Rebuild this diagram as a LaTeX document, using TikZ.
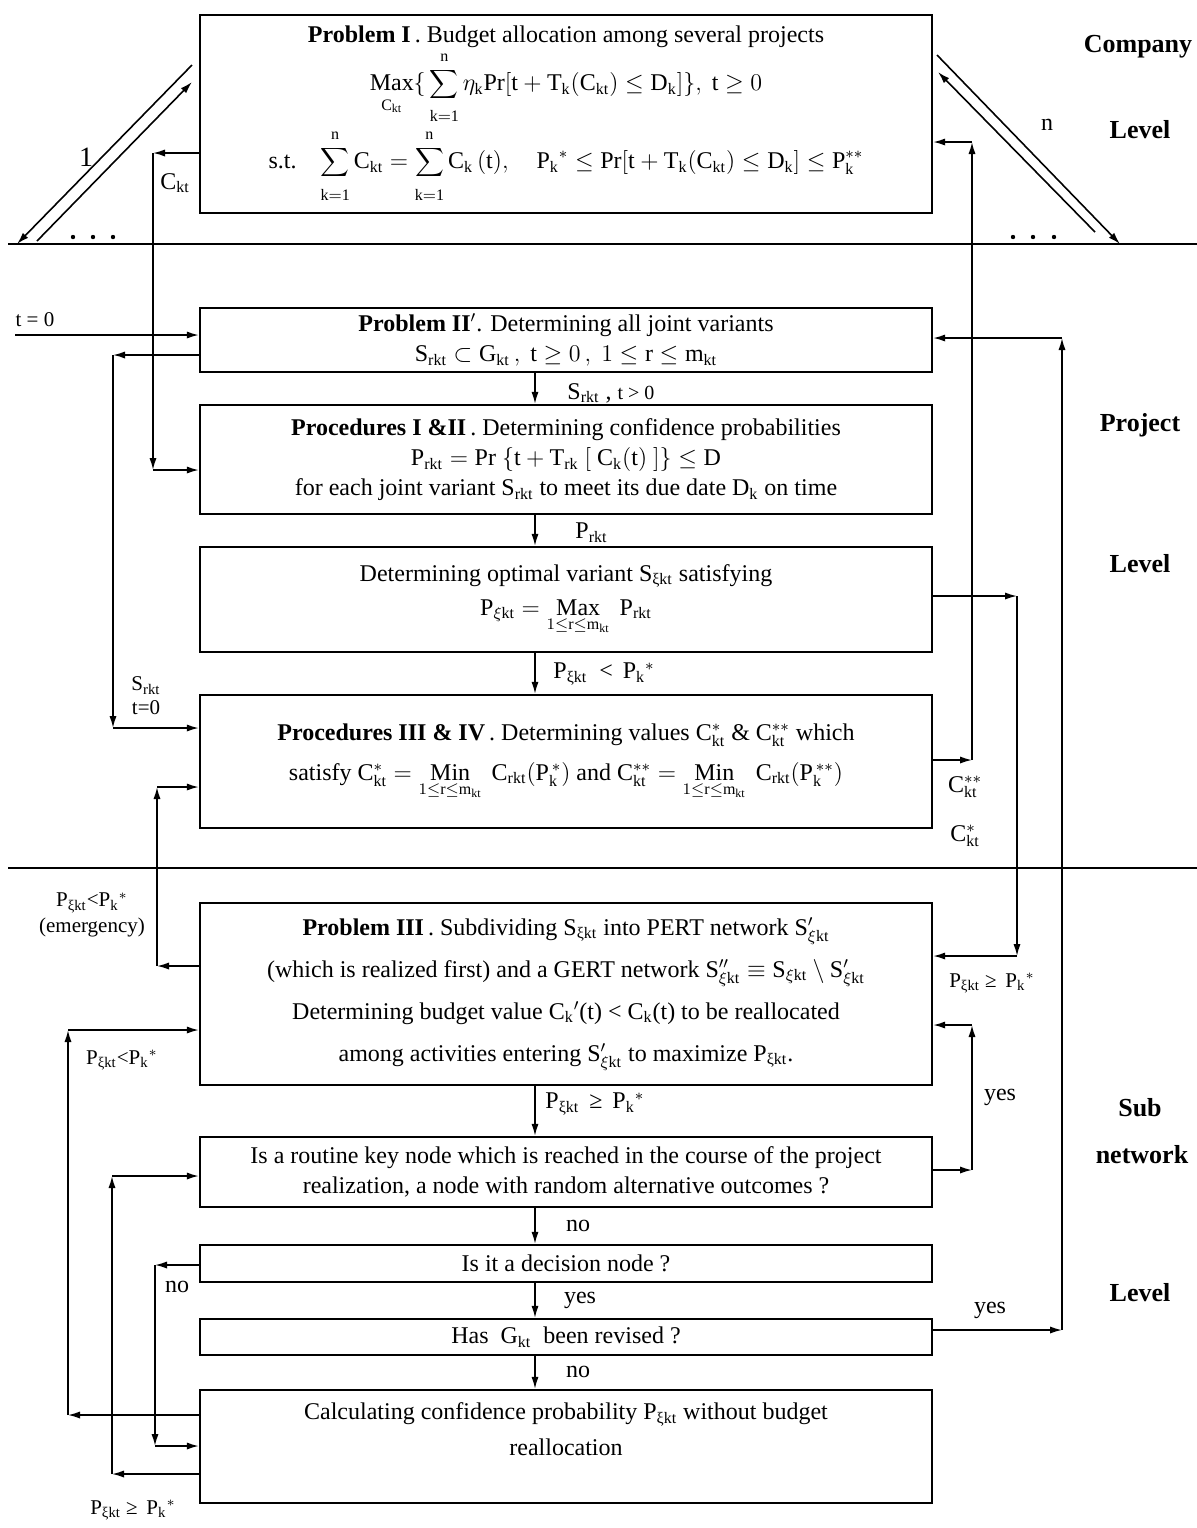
\documentclass[tikz,border=0pt]{standalone}
\usepackage{fontspec}
\setmainfont{Liberation Serif}
\usetikzlibrary{arrows.meta}
\newcommand\Ls[1]{\textsubscript{#1}}
\newcommand\upn{\mathrm{n}\rule[-2.5pt]{0pt}{0pt}}
\newcommand\lok{\rule{0pt}{9pt}\mathrm{k=1}}
\begin{document}
\begin{tikzpicture}[x=0.5pt,y=-0.5pt,
  box/.style={draw, line width=1.2pt, minimum width=366pt, inner sep=0pt, align=center, font=\fontsize{12}{14}\selectfont},
  conn/.style={line width=0.8pt},
  arr/.style={conn, -{Latex[length=6pt,width=3.6pt]}},
  lab/.style={font=\fontsize{12}{14}\selectfont, inner sep=1pt},
  slab/.style={font=\fontsize{10.5}{12}\selectfont, inner sep=1pt, align=center},
  side/.style={font=\fontsize{13}{15}\selectfont\bfseries},
  sep/.style={line width=0.7pt}]
\useasboundingbox (0,0) rectangle (1197,1528);

% separators
\coordinate (sepAl) at (8,244); \coordinate (sepAr) at (1197,244);
\coordinate (sepBl) at (8,868); \coordinate (sepBr) at (1197,868);
\draw[sep] (sepAl) -- (sepAr);
\draw[sep] (sepBl) -- (sepBr);
\foreach \x in {73,93,113,1013,1033,1054} \fill (\x,237) circle (2.2);

% boxes
\node[box, minimum height=99pt] (b1) at (566,114) {{\bfseries Problem I}\,. Budget allocation among several projects\\[1pt]
$\displaystyle\mathop{\mathrm{Max}}\limits_{\rule{0pt}{8pt}\mathrm{C_{kt}}}\{\,\sum\limits_{\lok}^{\upn}\eta_{\mathrm{k}}\mathrm{Pr[t+T_k(C_{kt})\le D_k]}\},\ \mathrm{t}\ge 0$\\[2pt]
s.t.\quad $\displaystyle\sum\limits_{\lok}^{\upn}\mathrm{C_{kt}} = \sum\limits_{\lok}^{\upn}\mathrm{C_k\,(t)},\quad \mathrm{P_k}^{*}\le\mathrm{Pr[t+T_k(C_{kt})\le D_k]}\le\mathrm{P_k^{**}}$};

\node[box, minimum height=32pt] (b2) at (566,340) {{\bfseries Problem II$'$}. Determining all joint variants\\[1pt]
$\mathrm{S_{rkt}}\subset\mathrm{G_{kt}}\,,\ \mathrm{t}\ge 0\,,\ 1\le \mathrm{r}\le\mathrm{m_{kt}}$};

\node[box, minimum height=54.5pt] (b3) at (566,459.5) {{\bfseries Procedures I \&II}\,. Determining confidence probabilities\\[1pt]
$\mathrm{P_{rkt}=Pr\ \{t+T_{rk}\ [\ C_k(t)\ ]\}\le D}$\\[1pt]
for each joint variant S\Ls{rkt} to meet its due date D\Ls{k} on time};

\node[box, minimum height=52.5pt] (b4) at (566,599.5) {Determining optimal variant S\Ls{ξkt} satisfying\\[3pt]
$\mathrm{P_{\xi kt}} = \mathop{\mathrm{Max}}\limits_{1\le \mathrm{r}\le \mathrm{m_{kt}}}\ \mathrm{P_{rkt}}$};

\node[box, minimum height=66.5pt] (b5) at (566,761.5) {{\bfseries Procedures III \& IV}\,. Determining values $\mathrm{C^{*}_{kt}}$ \& $\mathrm{C^{**}_{kt}}$ which\\[6pt]
satisfy $\mathrm{C^{*}_{kt}} = \mathop{\mathrm{Min}}\limits_{1\le\mathrm{r}\le\mathrm{m_{kt}}}\ \mathrm{C_{rkt}(P_k^{\,*})}$ and $\mathrm{C^{**}_{kt}} = \mathop{\mathrm{Min}}\limits_{1\le\mathrm{r}\le\mathrm{m_{kt}}}\ \mathrm{C_{rkt}(P_k^{\,**})}$};

\node[box, minimum height=91pt] (b6) at (566,994) {{\bfseries Problem III}\,. Subdividing S\Ls{ξkt} into PERT network $\mathrm{S'_{\xi kt}}$\\[7pt]
(which is realized first) and a GERT network $\mathrm{S''_{\xi kt}\equiv S_{\xi kt}\setminus S'_{\xi kt}}$\\[7pt]
Determining budget value C\Ls{k}$'$(t) < C\Ls{k}(t) to be reallocated\\[7pt]
among activities entering $\mathrm{S'_{\xi kt}}$ to maximize P\Ls{ξkt}.};

\node[box, minimum height=35pt] (b7) at (566,1172) {Is a routine key node which is reached in the course of the project\\[1pt]
realization, a node with random alternative outcomes ?};

\node[box, minimum height=18.5pt] (b8) at (566,1263.5) {Is it a decision node ?};

\node[box, minimum height=18pt] (b9) at (566,1337) {Has \ G\Ls{kt} \ been revised ?};

\node[box, minimum height=56.5pt] (b10) at (566,1446.5) {};
\node[lab, align=center] (b10t) at ([yshift=8.5pt]b10.center) {Calculating confidence probability P\Ls{ξkt} without budget\\[4pt] reallocation};

% side labels
\node[side] (lc1) at (1138,47) {Company};
\node[side] (lc2) at (1140,130) {Level};
\node[side] (lp1) at (1140,425) {Project};
\node[side] (lp2) at (1140,564) {Level};
\node[side] (ls1) at (1140,1108) {Sub};
\node[side] (ls2) at (1142,1155) {network};
\node[side] (ls3) at (1140,1293) {Level};

% diagonal double arrows
\coordinate (dA1) at (192,65); \coordinate (dA2) at (17,244);
\coordinate (dB1) at (37,241); \coordinate (dB2) at (192,82);
\draw[arr] (dA1) -- (dA2);
\draw[arr] (dB1) -- (dB2);
\node[font=\fontsize{14}{16}\selectfont] (one) at (86,157) {1};
\coordinate (dC1) at (937,55); \coordinate (dC2) at (1120,244);
\coordinate (dD1) at (1095,232); \coordinate (dD2) at (938,72);
\draw[arr] (dC1) -- (dC2);
\draw[arr] (dD1) -- (dD2);
\node[lab] (nn) at (1047,125) {n};

% vertical arrows between boxes
\coordinate (ax) at (535,0);
\draw[arr] (b2.south -| ax) -- (b3.north -| ax);
\node[lab, anchor=west] (l23) at (565,393) {S\Ls{rkt} , {\fontsize{10}{12}\selectfont t > 0}};
\draw[arr] (b3.south -| ax) -- (b4.north -| ax);
\node[lab, anchor=west] (l34) at (573,533) {P\Ls{rkt}};
\draw[arr] (b4.south -| ax) -- (b5.north -| ax);
\node[lab, anchor=west] (l45) at (551,674) {P\Ls{ξkt} \ < \,P\Ls{k}$^{*}$};
\draw[arr] (b6.south -| ax) -- (b7.north -| ax);
\node[lab, anchor=west] (l67) at (543,1104) {P\Ls{ξkt} \,≥ \,P\Ls{k}$^{*}$};
\draw[arr] (b7.south -| ax) -- (b8.north -| ax);
\node[lab] (l78) at (578,1226) {no};
\draw[arr] (b8.south -| ax) -- (b9.north -| ax);
\node[lab] (l89) at (580,1300) {yes};
\draw[arr] (b9.south -| ax) -- (b10.north -| ax);
\node[lab] (l910) at (578,1372) {no};

% left connectors
\coordinate (ck1) at (153,153); \coordinate (ck2) at (153,470);
\draw[arr] (b1.west |- ck1) -- (ck1);
\draw[arr] (ck1) -- (ck2);
\draw[arr] (ck2) -- (b3.west |- ck2);
\node[lab] (lck) at (175,183) {C\Ls{kt}};

\coordinate (t0) at (15,335);
\draw[arr] (t0) -- (b2.west |- t0);
\node[slab] (lt0) at (35,320) {t = 0};

\coordinate (s1) at (113,355); \coordinate (s2) at (113,728);
\draw[arr] (b2.west |- s1) -- (s1);
\draw[arr] (s1) -- (s2);
\draw[arr] (s2) -- (b5.west |- s2);
\node[slab] (ls) at (146,696) {S\Ls{rkt}\\[0pt]t=0};

\coordinate (e1) at (157,966); \coordinate (e2) at (157,787);
\draw[arr] (b6.west |- e1) -- (e1);
\draw[arr] (e1) -- (e2);
\draw[arr] (e2) -- (b5.west |- e2);
\node[slab] (le) at (92,915) {P\Ls{ξkt}<P\Ls{k}$^{*}$\\[1pt](emergency)};

\coordinate (p1) at (68,1415); \coordinate (p2) at (68,1030);
\draw[arr] (b10.west |- p1) -- (p1);
\draw[arr] (p1) -- (p2);
\draw[arr] (p2) -- (b6.west |- p2);
\node[slab] (lp) at (122,1060) {P\Ls{ξkt}<P\Ls{k}$^{*}$};

\coordinate (q1) at (112,1474); \coordinate (q2) at (112,1176);
\draw[arr] (b10.west |- q1) -- (q1);
\draw[arr] (q1) -- (q2);
\draw[arr] (q2) -- (b7.west |- q2);
\node[slab] (lq) at (133,1510) {P\Ls{ξkt} ≥ \,P\Ls{k}$^{*}$};

\coordinate (n1) at (155,1265); \coordinate (n2) at (155,1446);
\draw[arr] (b8.west |- n1) -- (n1);
\draw[arr] (n1) -- (n2);
\draw[arr] (n2) -- (b10.west |- n2);
\node[lab] (lno) at (177,1287) {no};

% right connectors
\coordinate (r1) at (1017,596); \coordinate (r2) at (1017,956);
\draw[arr] (b4.east |- r1) -- (r1);
\draw[arr] (r1) -- (r2);
\draw[arr] (r2) -- (b6.east |- r2);
\node[slab] (lr) at (992,983) {P\Ls{ξkt} ≥ \,P\Ls{k}$^{*}$};

\coordinate (c1) at (972,760); \coordinate (c2) at (972,142);
\draw[arr] (b5.east |- c1) -- (c1);
\draw[arr] (c1) -- (c2);
\draw[arr] (c2) -- (b1.east |- c2);
\node[lab] (lc2s) at (965,787) {$\mathrm{C^{**}_{kt}}$};
\node[lab] (lc1s) at (965,836) {$\mathrm{C^{*}_{kt}}$};

\coordinate (y1) at (1062,1330); \coordinate (y2) at (1062,338);
\draw[arr] (b9.east |- y1) -- (y1);
\draw[arr] (y1) -- (y2);
\draw[arr] (y2) -- (b2.east |- y2);
\node[lab] (ly1) at (990,1310) {yes};

\coordinate (w1) at (972,1170); \coordinate (w2) at (972,1025);
\draw[arr] (b7.east |- w1) -- (w1);
\draw[arr] (w1) -- (w2);
\draw[arr] (w2) -- (b6.east |- w2);
\node[lab] (lw) at (1000,1097) {yes};
\end{tikzpicture}
\end{document}
